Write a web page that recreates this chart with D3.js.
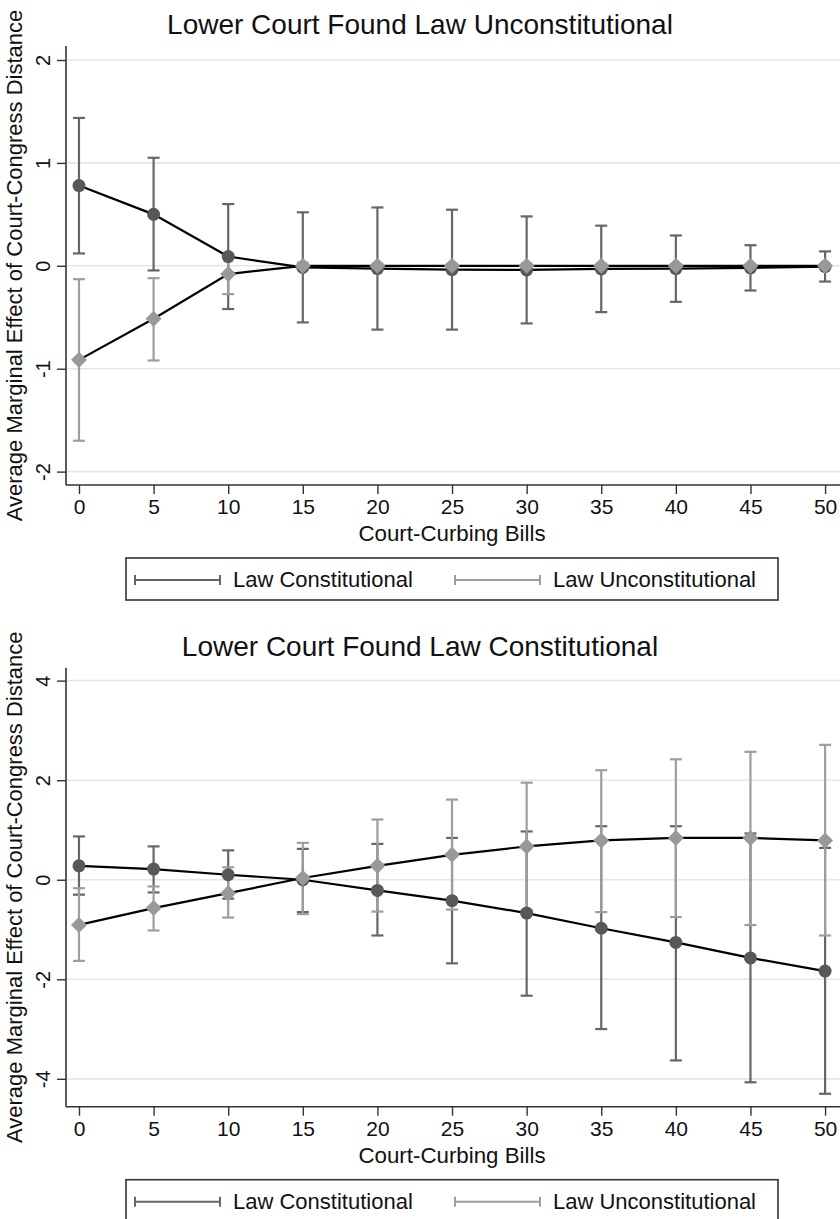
<!DOCTYPE html>
<html>
<head>
<meta charset="utf-8">
<title>Average Marginal Effects</title>
<script src="https://cdn.jsdelivr.net/npm/d3@7"></script>
<style>
  body { margin: 0; background: #fff; }
  text { font-family: "Liberation Sans", Arial, Helvetica, sans-serif; fill: #111; }
</style>
</head>
<body>
<script>
// x values (number of court-curbing bills)
var bills = [0, 5, 10, 15, 20, 25, 30, 35, 40, 45, 50];
var xTicks = [0, 5, 10, 15, 20, 25, 30, 35, 40, 45, 50];

// panel 1: lower court found law unconstitutional
var p1ConstEst = [0.78, 0.50, 0.09, -0.015, -0.027, -0.037, -0.04, -0.03, -0.027, -0.02, -0.007];
var p1ConstLo  = [0.12, -0.045, -0.42, -0.55, -0.62, -0.62, -0.56, -0.45, -0.35, -0.24, -0.153];
var p1ConstHi  = [1.437, 1.05, 0.60, 0.52, 0.567, 0.545, 0.48, 0.39, 0.295, 0.20, 0.14];
var p1UnconEst = [-0.914, -0.515, -0.08, 0.0, 0.0, 0.0, 0.0, 0.0, 0.0, 0.0, 0.0];
var p1UnconLo  = [-1.70, -0.92, -0.275, -0.03, -0.02, -0.02, -0.02, -0.02, -0.015, -0.01, -0.01];
var p1UnconHi  = [-0.13, -0.12, 0.115, 0.03, 0.02, 0.02, 0.02, 0.02, 0.015, 0.01, 0.01];
var p1Ticks = [-2, -1, 0, 1, 2];

// panel 2: lower court found law constitutional
var p2ConstEst = [0.28, 0.215, 0.10, 0.0, -0.215, -0.42, -0.67, -0.975, -1.26, -1.57, -1.835];
var p2ConstLo  = [-0.30, -0.255, -0.38, -0.65, -1.12, -1.68, -2.33, -3.00, -3.63, -4.07, -4.30];
var p2ConstHi  = [0.87, 0.67, 0.59, 0.62, 0.72, 0.84, 0.97, 1.075, 1.075, 0.93, 0.64];
var p2UnconEst = [-0.907, -0.57, -0.27, 0.035, 0.28, 0.50, 0.67, 0.79, 0.84, 0.84, 0.79];
var p2UnconLo  = [-1.63, -1.02, -0.76, -0.69, -0.64, -0.60, -0.61, -0.65, -0.75, -0.91, -1.12];
var p2UnconHi  = [-0.17, -0.135, 0.25, 0.74, 1.21, 1.61, 1.95, 2.20, 2.42, 2.57, 2.71];
var p2Ticks = [-4, -2, 0, 2, 4];

var seriesNames = ["Law Constitutional", "Law Unconstitutional"];

var darkCi = "#666666", darkMark = "#585858";
var lightCi = "#9e9e9e", lightMark = "#999999";

var svg = d3.select("body").append("svg")
  .attr("width", 840)
  .attr("height", 1219);

// shared x scale for both panels
var x = d3.scaleLinear().domain([-0.87, 51]).range([66, 840]);

function rows(est, lo, hi) {
  return bills.map(function(b, i) { return {b: b, est: est[i], lo: lo[i], hi: hi[i]}; });
}

function panel(offset, title, yDomain, yTicks, constRows, unconRows) {
  var g = svg.append("g").attr("transform", "translate(0," + offset + ")");
  var top = 46, bottom = 485;
  var y = d3.scaleLinear().domain(yDomain).range([bottom, top]);

  // gridlines
  g.selectAll(".grid").data(yTicks).enter().append("line")
    .attr("x1", 66).attr("x2", 840)
    .attr("y1", function(d) { return y(d); })
    .attr("y2", function(d) { return y(d); })
    .attr("stroke", "#e6e6e6").attr("stroke-width", 1.6);

  // title
  g.append("text")
    .attr("x", 420).attr("y", 34)
    .attr("text-anchor", "middle")
    .style("font-size", "28px")
    .text(title);

  // y axis
  var yAxis = g.append("g")
    .attr("transform", "translate(66,0)")
    .call(d3.axisLeft(y).tickValues(yTicks).tickSize(9).tickPadding(6)
      .tickFormat(function(d) { return String(d); }));
  yAxis.select(".domain").attr("d", "M0," + top + "V" + bottom).attr("stroke", "#333").attr("stroke-width", 1.6);
  yAxis.selectAll(".tick line").attr("stroke", "#333").attr("stroke-width", 1.4);
  yAxis.selectAll(".tick text")
    .attr("x", 0).attr("dy", null).attr("y", 0)
    .attr("text-anchor", "middle")
    .attr("transform", "translate(-16,0) rotate(-90)")
    .style("font-size", "20px")
    .attr("fill", "#111");

  // x axis
  var xAxis = g.append("g")
    .attr("transform", "translate(0," + bottom + ")")
    .call(d3.axisBottom(x).tickValues(xTicks).tickSize(9).tickPadding(5));
  xAxis.select(".domain").attr("d", "M66,0H840").attr("stroke", "#333").attr("stroke-width", 1.6);
  xAxis.selectAll(".tick line").attr("stroke", "#333").attr("stroke-width", 1.4);
  xAxis.selectAll(".tick text").style("font-size", "21px").attr("fill", "#111");

  // axis titles
  g.append("text")
    .attr("x", 452).attr("y", 541)
    .attr("text-anchor", "middle")
    .style("font-size", "22.3px")
    .text("Court-Curbing Bills");
  g.append("text")
    .attr("transform", "translate(22," + ((top + bottom) / 2) + ") rotate(-90)")
    .attr("text-anchor", "middle")
    .style("font-size", "22px")
    .text("Average Marginal Effect of Court-Congress Distance");

  // confidence intervals (capped spikes)
  function caps(data, color) {
    var c = g.append("g").attr("stroke", color).attr("stroke-width", 2.2);
    c.selectAll(".ci").data(data).enter().append("line")
      .attr("x1", function(d) { return x(d.b); }).attr("x2", function(d) { return x(d.b); })
      .attr("y1", function(d) { return y(d.lo); }).attr("y2", function(d) { return y(d.hi); });
    c.selectAll(".capHi").data(data).enter().append("line")
      .attr("x1", function(d) { return x(d.b) - 6; }).attr("x2", function(d) { return x(d.b) + 6; })
      .attr("y1", function(d) { return y(d.hi); }).attr("y2", function(d) { return y(d.hi); });
    c.selectAll(".capLo").data(data).enter().append("line")
      .attr("x1", function(d) { return x(d.b) - 6; }).attr("x2", function(d) { return x(d.b) + 6; })
      .attr("y1", function(d) { return y(d.lo); }).attr("y2", function(d) { return y(d.lo); });
  }
  caps(constRows, darkCi);
  caps(unconRows, lightCi);

  var line = d3.line().x(function(d) { return x(d.b); }).y(function(d) { return y(d.est); });
  g.append("path").datum(constRows).attr("d", line)
    .attr("fill", "none").attr("stroke", "#000").attr("stroke-width", 2.2);
  g.append("path").datum(unconRows).attr("d", line)
    .attr("fill", "none").attr("stroke", "#000").attr("stroke-width", 2.2);

  g.selectAll(".dot").data(constRows).enter().append("circle")
    .attr("cx", function(d) { return x(d.b); })
    .attr("cy", function(d) { return y(d.est); })
    .attr("r", 6.5)
    .attr("fill", darkMark);

  // diamonds: a square turned 45 degrees
  var diamond = d3.symbol().type(d3.symbolSquare).size(128);
  g.selectAll(".dia").data(unconRows).enter().append("path")
    .attr("transform", function(d) { return "translate(" + x(d.b) + "," + y(d.est) + ") rotate(45)"; })
    .attr("d", diamond)
    .attr("fill", lightMark);

  // legend
  var lg = g.append("g");
  lg.append("rect")
    .attr("x", 126).attr("y", 558).attr("width", 652).attr("height", 42)
    .attr("fill", "#fff").attr("stroke", "#333").attr("stroke-width", 1.6);
  var keys = [{name: seriesNames[0], x0: 135, color: darkCi}, {name: seriesNames[1], x0: 455, color: lightCi}];
  keys.forEach(function(k) {
    var kg = lg.append("g").attr("stroke", k.color).attr("stroke-width", 2);
    kg.append("line").attr("x1", k.x0).attr("x2", k.x0 + 85).attr("y1", 580).attr("y2", 580);
    kg.append("line").attr("x1", k.x0).attr("x2", k.x0).attr("y1", 575).attr("y2", 585);
    kg.append("line").attr("x1", k.x0 + 85).attr("x2", k.x0 + 85).attr("y1", 575).attr("y2", 585);
    lg.append("text")
      .attr("x", k.x0 + 98).attr("y", 587)
      .style("font-size", "22px")
      .text(k.name);
  });
}

panel(0, "Lower Court Found Law Unconstitutional", [-2.13, 2.136], p1Ticks,
  rows(p1ConstEst, p1ConstLo, p1ConstHi), rows(p1UnconEst, p1UnconLo, p1UnconHi));
panel(621.7, "Lower Court Found Law Constitutional", [-4.56, 4.26], p2Ticks,
  rows(p2ConstEst, p2ConstLo, p2ConstHi), rows(p2UnconEst, p2UnconLo, p2UnconHi));
</script>
</body>
</html>
